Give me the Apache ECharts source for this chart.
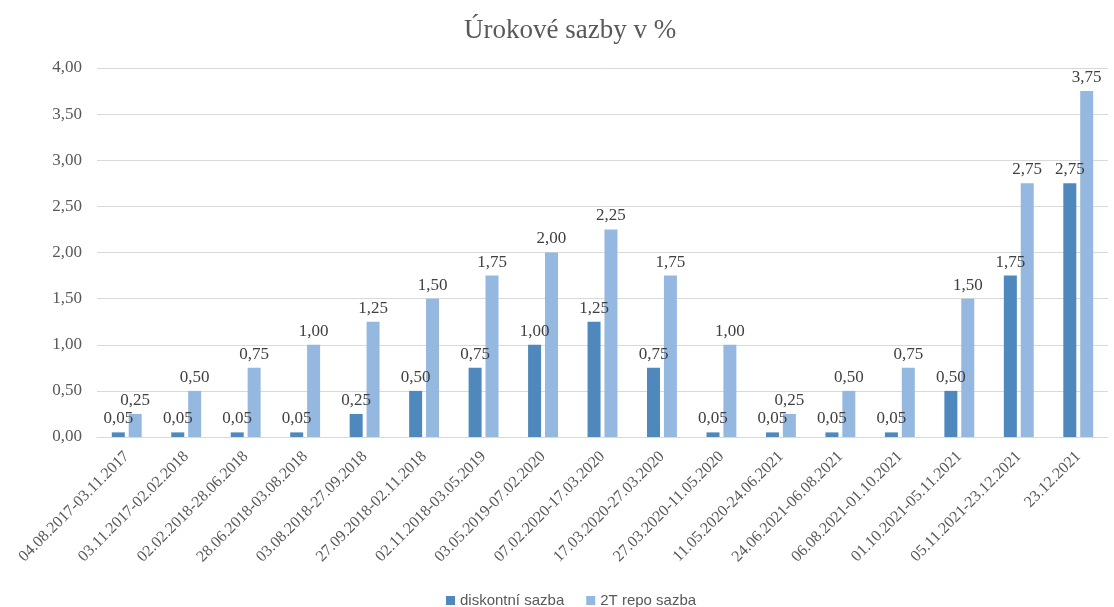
<!DOCTYPE html>
<html>
<head>
<meta charset="utf-8">
<script src="https://cdn.jsdelivr.net/npm/echarts@6/dist/echarts.min.js"></script>
<style>
  html, body { margin: 0; padding: 0; background: #fff; }
  #chart { width: 1114px; height: 607px; }
</style>
</head>
<body>
<div id="chart"></div>
<script>
// Periods of validity of the rates
const periods = [
  '04.08.2017-03.11.2017', '03.11.2017-02.02.2018', '02.02.2018-28.06.2018',
  '28.06.2018-03.08.2018', '03.08.2018-27.09.2018', '27.09.2018-02.11.2018',
  '02.11.2018-03.05.2019', '03.05.2019-07.02.2020', '07.02.2020-17.03.2020',
  '17.03.2020-27.03.2020', '27.03.2020-11.05.2020', '11.05.2020-24.06.2021',
  '24.06.2021-06.08.2021', '06.08.2021-01.10.2021', '01.10.2021-05.11.2021',
  '05.11.2021-23.12.2021', '23.12.2021'
];

// Discount rate (%)
const discountRate = [0.05, 0.05, 0.05, 0.05, 0.25, 0.50, 0.75, 1.00, 1.25, 0.75, 0.05, 0.05, 0.05, 0.05, 0.50, 1.75, 2.75];

// 2-week repo rate (%)
const repoRate = [0.25, 0.50, 0.75, 1.00, 1.25, 1.50, 1.75, 2.00, 2.25, 1.75, 1.00, 0.25, 0.50, 0.75, 1.50, 2.75, 3.75];

const serif = '"Liberation Serif", "DejaVu Serif", serif';
const fmt = v => v.toFixed(2).replace('.', ',');

const chart = echarts.init(document.getElementById('chart'));

const labelStyle = {
  show: true,
  position: 'top',
  distance: 5,
  fontFamily: serif,
  fontSize: 17,
  color: '#404040',
  formatter: p => fmt(p.value)
};

chart.setOption({
  animation: false,
  title: {
    text: 'Úrokové sazby v %',
    left: 459,
    top: 12,
    textStyle: { fontFamily: serif, fontSize: 27, fontWeight: 'normal', color: '#595959' }
  },
  legend: {
    bottom: -6,
    left: 441,
    icon: 'rect',
    itemWidth: 9,
    itemHeight: 9,
    itemGap: 22,
    textStyle: { fontFamily: '"Liberation Sans", Arial, sans-serif', fontSize: 15, color: '#595959' },
    data: ['diskontní sazba', '2T repo sazba']
  },
  grid: { left: 97, right: 6, top: 68, bottom: 170 },
  xAxis: {
    type: 'category',
    data: periods,
    axisLine: { lineStyle: { color: '#d9d9d9', width: 1 } },
    axisTick: { show: false },
    axisLabel: {
      rotate: 45,
      interval: 0,
      margin: 17,
      fontFamily: serif,
      fontSize: 16,
      color: '#595959'
    }
  },
  yAxis: {
    type: 'value',
    min: 0,
    max: 4,
    interval: 0.5,
    axisLine: { show: false },
    axisTick: { show: false },
    splitLine: { lineStyle: { color: '#d9d9d9', width: 1 } },
    axisLabel: {
      margin: 15,
      fontFamily: serif,
      fontSize: 17,
      color: '#595959',
      formatter: v => fmt(v)
    }
  },
  series: [
    {
      name: 'diskontní sazba',
      type: 'bar',
      data: discountRate,
      barWidth: 13,
      barGap: '30%',
      itemStyle: { color: '#4f88bd' },
      label: labelStyle
    },
    {
      name: '2T repo sazba',
      type: 'bar',
      data: repoRate,
      barWidth: 13,
      itemStyle: { color: '#95b8e0' },
      label: labelStyle
    }
  ]
});
</script>
</body>
</html>
